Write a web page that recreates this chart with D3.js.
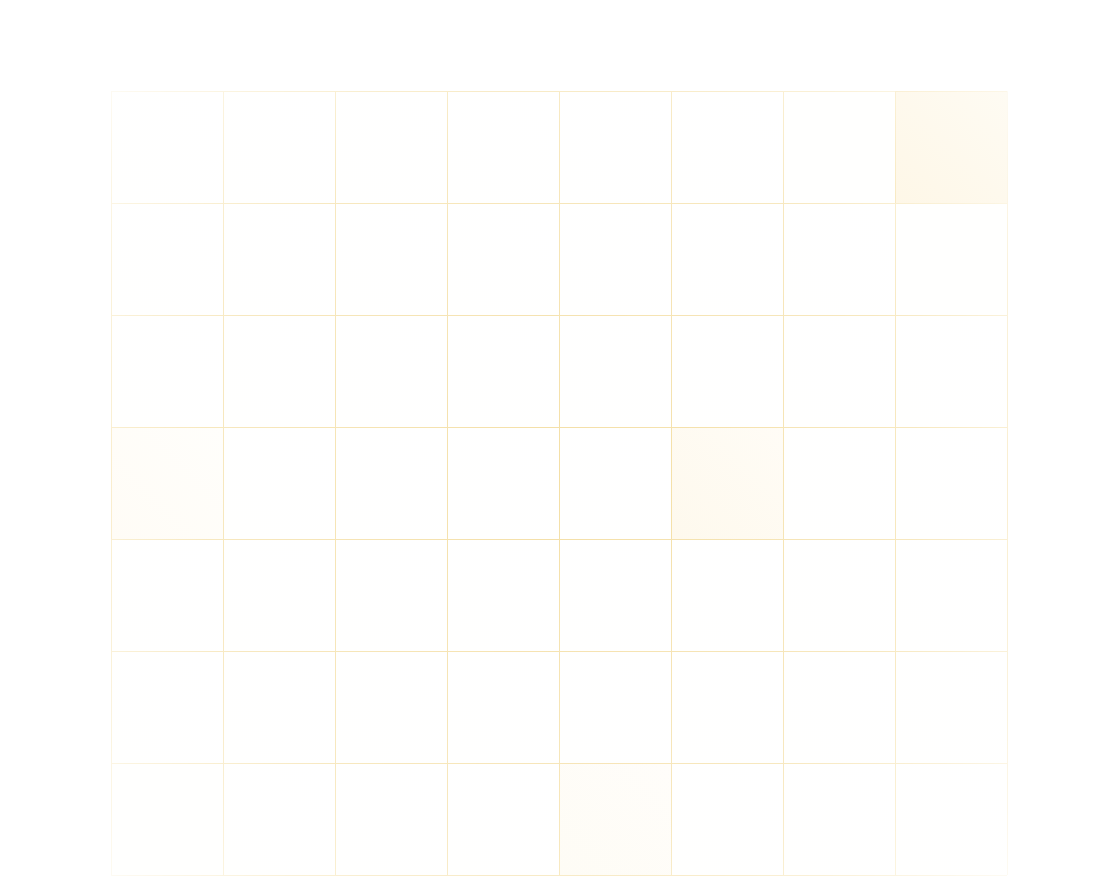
<!DOCTYPE html>
<html>
<head>
<meta charset="utf-8">
<script src="https://cdn.jsdelivr.net/npm/d3@7"></script>
<style>
  html, body { margin: 0; padding: 0; background: #ffffff; }
  svg { display: block; }
</style>
</head>
<body>
<svg id="chart" width="1118" height="876"></svg>
<script>
// ---- data ----
const columns = ["C1", "C2", "C3", "C4", "C5", "C6", "C7", "C8"];
const rows = ["R1", "R2", "R3", "R4", "R5", "R6", "R7"];
const row1 = [0.01, 0.01, 0.01, 0.01, 0.01, 0.01, 0.015, 0.33];
const row2 = [0.01, 0.01, 0.01, 0.01, 0.01, 0.01, 0.01, 0.015];
const row3 = [0.01, 0.01, 0.01, 0.01, 0.01, 0.01, 0.01, 0.01];
const row4 = [0.12, 0.01, 0.01, 0.01, 0.01, 0.24, 0.01, 0.01];
const row5 = [0.01, 0.01, 0.01, 0.01, 0.01, 0.01, 0.01, 0.01];
const row6 = [0.01, 0.01, 0.01, 0.01, 0.01, 0.01, 0.01, 0.01];
const row7 = [0.015, 0.01, 0.01, 0.01, 0.14, 0.01, 0.01, 0.01];
const seriesValues = [row1, row2, row3, row4, row5, row6, row7];

// ---- layout ----
const W = 1118, H = 876;
const margin = { top: 91, right: 111, bottom: 1, left: 111 };
const innerW = W - margin.left - margin.right;
const innerH = H - margin.top - margin.bottom;

const svg = d3.select("#chart");
const defs = svg.append("defs");
const g = svg.append("g").attr("transform", `translate(${margin.left},${margin.top})`);

const x = d3.scaleBand().domain(columns).range([0, innerW]).padding(0);
const y = d3.scaleBand().domain(rows).range([0, innerH]).padding(0);
const color = d3.scaleLinear().domain([0, 1]).range(["#ffffff", "#fbe7b5"]).interpolate(d3.interpolateRgb);

const cells = [];
seriesValues.forEach((vals, ri) => {
  vals.forEach((v, ci) => cells.push({ row: rows[ri], col: columns[ci], value: v, id: `g${ri}_${ci}` }));
});

// per-cell gradients
cells.forEach(d => {
  const lg = defs.append("linearGradient").attr("id", d.id)
    .attr("x1", "0").attr("y1", "1").attr("x2", "1").attr("y2", "0");
  lg.append("stop").attr("offset", "0%").attr("stop-color", color(d.value));
  lg.append("stop").attr("offset", "100%").attr("stop-color", color(d.value * 0.5));
});

g.selectAll("rect.cell").data(cells).join("rect")
  .attr("class", "cell")
  .attr("x", d => x(d.col))
  .attr("y", d => y(d.row))
  .attr("width", x.bandwidth())
  .attr("height", y.bandwidth())
  .attr("fill", d => `url(#${d.id})`);

// radial fade mask for gridlines
const rg = defs.append("radialGradient").attr("id", "fadeGrad")
  .attr("gradientUnits", "userSpaceOnUse")
  .attr("cx", innerW / 2).attr("cy", innerH / 2).attr("r", Math.hypot(innerW, innerH) / 2);
rg.append("stop").attr("offset", "0%").attr("stop-color", "#ffffff").attr("stop-opacity", 0.85);
rg.append("stop").attr("offset", "60%").attr("stop-color", "#ffffff").attr("stop-opacity", 0.6);
rg.append("stop").attr("offset", "100%").attr("stop-color", "#ffffff").attr("stop-opacity", 0.12);
const mask = defs.append("mask").attr("id", "fadeMask")
  .attr("maskUnits", "userSpaceOnUse")
  .attr("x", -5).attr("y", -5).attr("width", innerW + 10).attr("height", innerH + 10);
mask.append("rect").attr("x", -5).attr("y", -5).attr("width", innerW + 10).attr("height", innerH + 10)
  .attr("fill", "url(#fadeGrad)");

const grid = g.append("g").attr("mask", "url(#fadeMask)")
  .attr("stroke", "#f2d995").attr("stroke-width", 1).attr("fill", "none");

const xLines = columns.map(c => x(c)).concat([innerW]);
const yLines = rows.map(r => y(r)).concat([innerH]);

grid.selectAll("line.v").data(xLines).join("line")
  .attr("class", "v")
  .attr("x1", d => d + 0.5).attr("x2", d => d + 0.5)
  .attr("y1", 0).attr("y2", innerH);
grid.selectAll("line.h").data(yLines).join("line")
  .attr("class", "h")
  .attr("y1", d => d + 0.5).attr("y2", d => d + 0.5)
  .attr("x1", 0).attr("x2", innerW);
</script>
</body>
</html>
